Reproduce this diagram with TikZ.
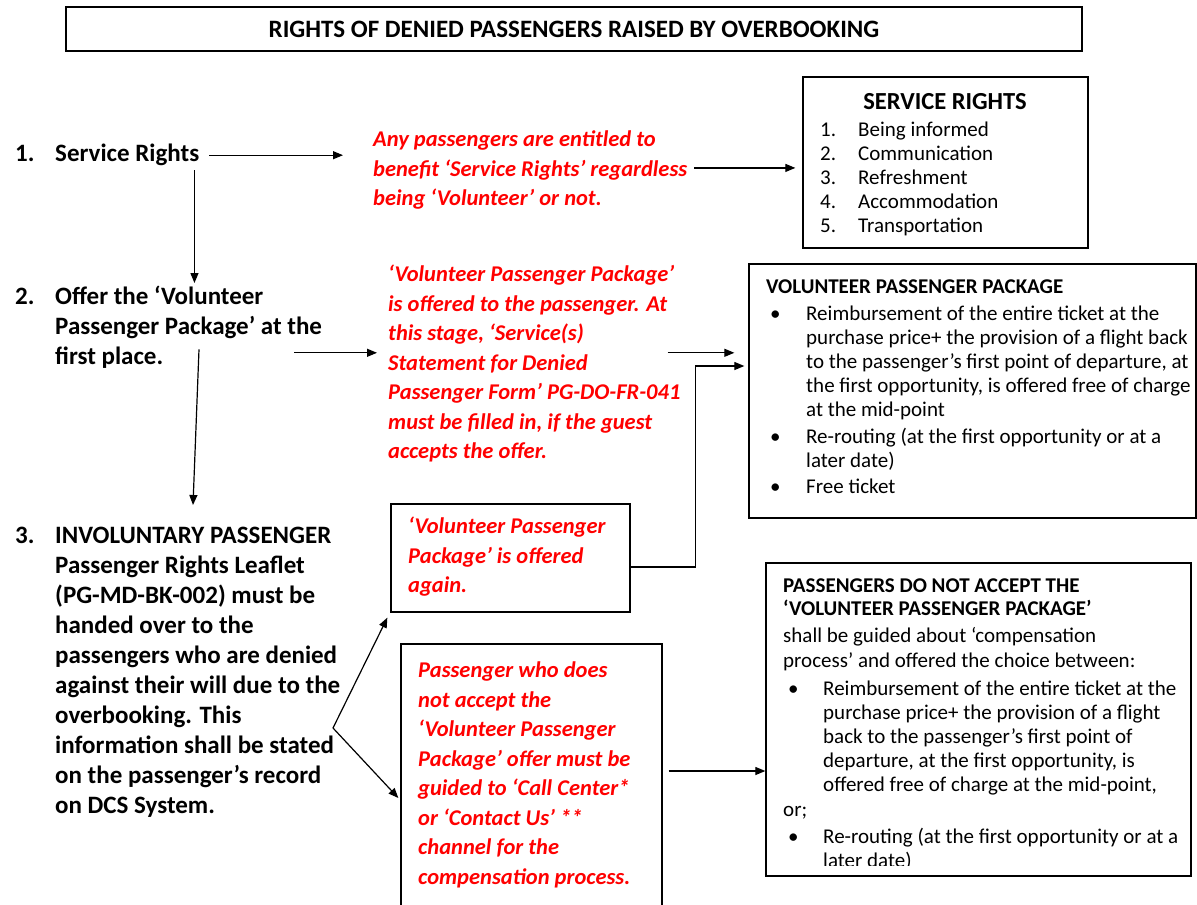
\documentclass[tikz,border=0pt]{standalone}
\usepackage{fontspec}
\setmainfont{Carlito}
\usetikzlibrary{arrows.meta}

\begin{document}
\begin{tikzpicture}[x=1pt,y=-1pt,
  arr/.style={line width=1.2pt,-{Triangle[length=10pt,width=8pt]}},
  frame/.style={draw,line width=1.3pt,rectangle,inner sep=0pt},
  stepnum/.style={anchor=north west,inner sep=0pt,font=\fontsize{25}{30}\selectfont\bfseries},
  steptext/.style={anchor=north west,inner sep=0pt,align=left,font=\fontsize{25}{30}\selectfont\bfseries},
  redtext/.style={anchor=north west,inner sep=0pt,align=left,text=red,font=\fontsize{22.5}{29.5}\selectfont\bfseries\itshape},
  boxtext/.style={anchor=north west,inner sep=0pt,align=left,font=\fontsize{21}{24}\selectfont}]
\useasboundingbox (0,0) rectangle (1197,905);
\fill[white] (0,0) rectangle (1197,905);

\node[frame,minimum width=1016pt,minimum height=44pt,font=\fontsize{25}{28}\selectfont\bfseries] (title) at (574,29) {RIGHTS OF DENIED PASSENGERS RAISED BY OVERBOOKING};

% left column
\node[stepnum] (n1) at (15,140) {\strut 1.};
\node[steptext] (step1) at (55,140) {\strut Service Rights};
\node[stepnum] (n2) at (15,283) {\strut 2.};
\node[steptext] (step2) at (55,283) {\strut Offer the ‘Volunteer\\Passenger Package’ at the\\first place.};
\node[stepnum] (n3) at (15,522) {\strut 3.};
\node[steptext] (step3) at (55,522) {\strut INVOLUNTARY PASSENGER\\Passenger Rights Leaflet\\(PG-MD-BK-002) must be\\handed over to the\\passengers who are denied\\against their will due to the\\overbooking. This\\information shall be stated\\on the passenger’s record\\on DCS System.};

% red notes
\node[redtext] (red1) at (373,126) {\strut Any passengers are entitled to\\benefit ‘Service Rights’ regardless\\being ‘Volunteer’ or not.};
\node[redtext] (red2) at (388,261) {\strut ‘Volunteer Passenger Package’\\is offered to the passenger. At\\this stage, ‘Service(s)\\Statement for Denied\\Passenger Form’ PG-DO-FR-041\\must be filled in, if the guest\\accepts the offer.};

\node[frame,minimum width=239pt,minimum height=108pt] (again) at (510.5,558) {};
\node[redtext] (againtxt) at (408,513) {\strut ‘Volunteer Passenger\\Package’ is offered\\again.};
\node[frame,minimum width=261pt,minimum height=308pt] (noaccept) at (531.5,798) {};
\node[redtext] (noaccepttxt) at (418,657) {\strut Passenger who does\\not accept the\\‘Volunteer Passenger\\Package’ offer must be\\guided to ‘Call Center*\\or ‘Contact Us’ **\\channel for the\\compensation process.};

% right boxes
\node[frame,minimum width=285pt,minimum height=171pt] (srbox) at (945.5,162.5) {};
\node[anchor=base,inner sep=0pt,font=\fontsize{24.5}{28}\selectfont\bfseries] (srtitle) at (945,109) {SERVICE RIGHTS};
\node[boxtext] (srlist) at (820,119.5) {\strut\makebox[38pt][l]{1.}Being informed\\\makebox[38pt][l]{2.}Communication\\\makebox[38pt][l]{3.}Refreshment\\\makebox[38pt][l]{4.}Accommodation\\\makebox[38pt][l]{5.}Transportation};

\node[frame,minimum width=447pt,minimum height=254pt] (volbox) at (972.5,391) {};
\node[boxtext] (vollist) at (766,276.5) {\strut\textbf{VOLUNTEER PASSENGER PACKAGE}\\[3pt]
\hspace*{4pt}\makebox[36pt][l]{\textbullet}Reimbursement of the entire ticket at the\\
\hspace*{40pt}purchase price+ the provision of a flight back\\
\hspace*{40pt}to the passenger’s first point of departure, at\\
\hspace*{40pt}the first opportunity, is offered free of charge\\
\hspace*{40pt}at the mid-point\\[3pt]
\hspace*{4pt}\makebox[36pt][l]{\textbullet}Re-routing (at the first opportunity or at a\\
\hspace*{40pt}later date)\\[2pt]
\hspace*{4pt}\makebox[36pt][l]{\textbullet}Free ticket};

\node[frame,minimum width=425pt,minimum height=313pt] (nabox) at (978.5,719.5) {};
\begin{scope}
\clip (766,563) rectangle (1191,865);
\node[boxtext] (nalist) at (783,575.5) {\strut\textbf{PASSENGERS DO NOT ACCEPT THE}\\[-1pt]
\textbf{‘VOLUNTEER PASSENGER PACKAGE’}\\[3pt]
shall be guided about ‘compensation\\[1pt]
process’ and offered the choice between:\\[4pt]
\hspace*{5pt}\makebox[35pt][l]{\textbullet}Reimbursement of the entire ticket at the\\
\hspace*{40pt}purchase price+ the provision of a flight\\
\hspace*{40pt}back to the passenger’s first point of\\
\hspace*{40pt}departure, at the first opportunity, is\\
\hspace*{40pt}offered free of charge at the mid-point,\\[1pt]
or;\\[3pt]
\hspace*{5pt}\makebox[35pt][l]{\textbullet}Re-routing (at the first opportunity or at a\\
\hspace*{40pt}later date)};
\end{scope}

% connectors
\coordinate (fork) at (333,728);
\draw[arr,shorten <=10pt,shorten >=30pt] (step1.east) -- (step1.east -| red1.west);
\draw[arr,shorten <=7pt,shorten >=7pt] (red1.east) -- (red1.east -| srbox.west);
\draw[arr] ([xshift=-5pt]step1.south east) -- ([xshift=-5pt]step1.south east |- step2.north);
\draw[arr] ([xshift=-28pt,yshift=9pt]step2.east |- red2.west) -- ([xshift=-11pt,yshift=9pt]red2.west);
\draw[arr] ([xshift=-13pt,yshift=9pt]red2.east) -- ([xshift=-14pt,yshift=9pt]red2.east -| volbox.west);
\draw[arr] ([yshift=-9pt]again.east) -- ++(65,0) |- ([xshift=-4pt,yshift=25pt]volbox.west);
\draw[arr] ([xshift=144pt,yshift=19pt]step2.south west) -- ([xshift=138pt,yshift=17pt]step3.north west);
\draw[arr] (fork) -- ([shift={(-3pt,-5pt)}]again.south west);
\draw[arr] (fork) -- ([xshift=-2pt]noaccept.west);
\draw[arr] ([xshift=6pt,yshift=27pt]noaccept.east) -- ([yshift=27pt]noaccept.east -| nabox.west);
\end{tikzpicture}
\end{document}
